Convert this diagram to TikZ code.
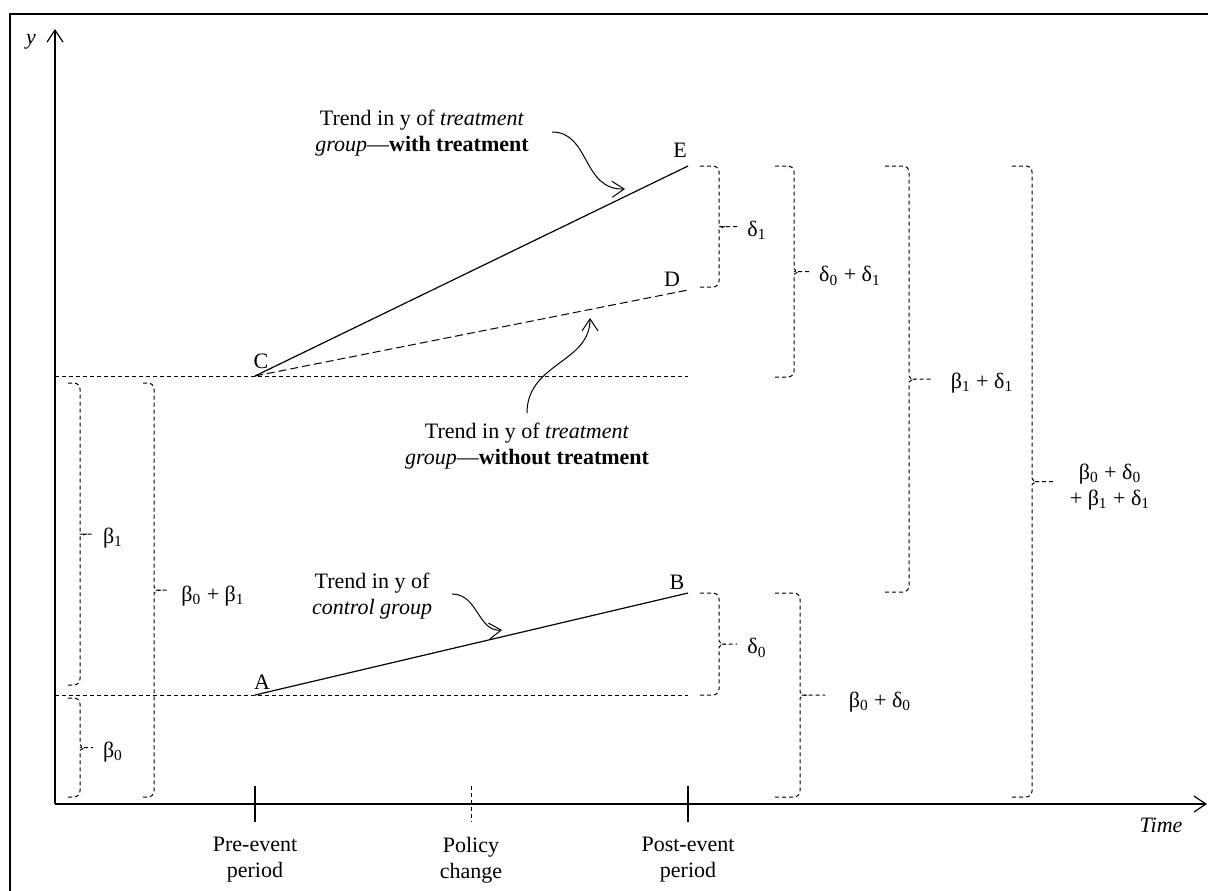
\documentclass[tikz,border=0pt]{standalone}
\usepackage{fontspec}
\setmainfont{Liberation Serif}
\usetikzlibrary{arrows.meta}
\newcommand\vbrace[5]{% x0, xv, xt, ytop, ybot
  \pgfmathsetmacro\ym{(#4+#5)/2}
  \draw[brc] (#1,#4) -| (#2,\ym-9) .. controls (#2,\ym-3) and (#2+3,\ym) .. (#2+7,\ym) -- (#3,\ym);
  \draw[brc] (#1,#5) -| (#2,\ym+9) .. controls (#2,\ym+3) and (#2+3,\ym) .. (#2+7,\ym);
}
\begin{document}
\begin{tikzpicture}[x=0.5pt,y=-0.5pt,
  font=\fontsize{11}{13}\selectfont,
  ax/.style={line width=0.6pt},
  hdash/.style={line width=0.5pt, dash pattern=on 2pt off 1.5pt},
  ldash/.style={line width=0.5pt, dash pattern=on 4pt off 2pt},
  brc/.style={line width=0.5pt, dash pattern=on 2pt off 1.5pt, rounded corners=3pt},
  trend/.style={line width=0.6pt},
  barb/.style={-{Straight Barb[length=6pt,width=8pt]}},
  ann/.style={line width=0.5pt, barb},
  lbl/.style={inner sep=0pt},
  txt/.style={align=center, inner sep=0pt}]
\useasboundingbox (0,0) rectangle (1208,890);
% frame
\draw[line width=1.1pt] (10,900) -- (10,14) -- (1220,14);
% axes
\coordinate (O) at (55,804);
\coordinate (ytip) at (55,29);
\coordinate (xtip) at (1207,804);
\draw[ax, barb] (O) -- (ytip);
\draw[ax, barb] (O) -- (xtip);
\node[lbl] (ylab) at (31,42) {\textit{y}};
\node[lbl] (tlab) at (1161,825) {\textit{Time}};
% ticks
\coordinate (t1a) at (255,786); \coordinate (t1b) at (255,822);
\coordinate (t2a) at (471,786); \coordinate (t2b) at (471,822);
\coordinate (t3a) at (688,786); \coordinate (t3b) at (688,822);
\draw[ax] (t1a) -- (t1b);
\draw[hdash] (t2a) -- (t2b);
\draw[ax] (t3a) -- (t3b);
\node[txt] (pre) at (255,860) {Pre-event\\period};
\node[txt] (pol) at (471,860) {Policy\\change};
\node[txt] (post) at (688,860) {Post-event\\period};
% points
\coordinate (A) at (255,695);
\coordinate (B) at (688,593);
\coordinate (C) at (255,376);
\coordinate (D) at (688,290);
\coordinate (E) at (688,166);
\coordinate (yA) at (55,695); \coordinate (Aend) at (688,695);
\coordinate (yC) at (55,376); \coordinate (Cend) at (688,376);
\draw[hdash] (yA) -- (Aend);
\draw[hdash] (yC) -- (Cend);
\draw[trend] (A) -- (B);
\draw[trend] (C) -- (E);
\draw[ldash] (C) -- (D);
\node[lbl] (lA) at (262,682) {A};
\node[lbl] (lB) at (677,582) {B};
\node[lbl] (lC) at (261,361) {C};
\node[lbl] (lD) at (672,279) {D};
\node[lbl] (lE) at (680,150) {E};
% annotations
\node[txt] (T1) at (422,133) {Trend in y of \textit{treatment}\\\textit{group}—\textbf{with treatment}};
\node[txt] (T2) at (527,446) {Trend in y of \textit{treatment}\\\textit{group}—\textbf{without treatment}};
\node[txt] (T3) at (372,596) {Trend in y of\\\textit{control group}};
\coordinate (a1s) at (552,132); \coordinate (a1e) at (625,189);
\coordinate (a2s) at (527,413); \coordinate (a2e) at (590,318);
\coordinate (a3s) at (452,594); \coordinate (a3e) at (502,630);
\draw[ann] (a1s) .. controls (590,132) and (582,190) .. (a1e);
\draw[ann] (a2s) .. controls (527,363) and (590,363) .. (a2e);
\draw[ann] (a3s) .. controls (478,594) and (478,632) .. (a3e);
% braces left
\vbrace{68}{80}{92}{383}{685}
\vbrace{68}{80}{92}{698}{797}
\vbrace{143}{154}{167}{383}{797}
\node[lbl] (b1) at (113,538) {β\textsubscript{1}};
\node[lbl] (b0) at (113,752) {β\textsubscript{0}};
\node[lbl] (b01) at (213,596) {β\textsubscript{0} + β\textsubscript{1}};
% braces right
\vbrace{700}{719}{737}{166}{287}
\vbrace{775}{794}{812}{166}{377}
\vbrace{885}{909}{933}{166}{592}
\vbrace{1012}{1032}{1053}{166}{797}
\vbrace{700}{719}{737}{593}{695}
\vbrace{775}{800}{825}{593}{797}
\node[lbl] (d1) at (757,230) {δ\textsubscript{1}};
\node[lbl] (d01) at (850,276) {δ\textsubscript{0} + δ\textsubscript{1}};
\node[lbl] (b1d1) at (982,383) {β\textsubscript{1} + δ\textsubscript{1}};
\node[txt] (all) at (1110,487) {β\textsubscript{0} + δ\textsubscript{0}\\+ β\textsubscript{1} + δ\textsubscript{1}};
\node[lbl] (d0) at (757,648) {δ\textsubscript{0}};
\node[lbl] (b0d0) at (880,702) {β\textsubscript{0} + δ\textsubscript{0}};
\end{tikzpicture}
\end{document}
